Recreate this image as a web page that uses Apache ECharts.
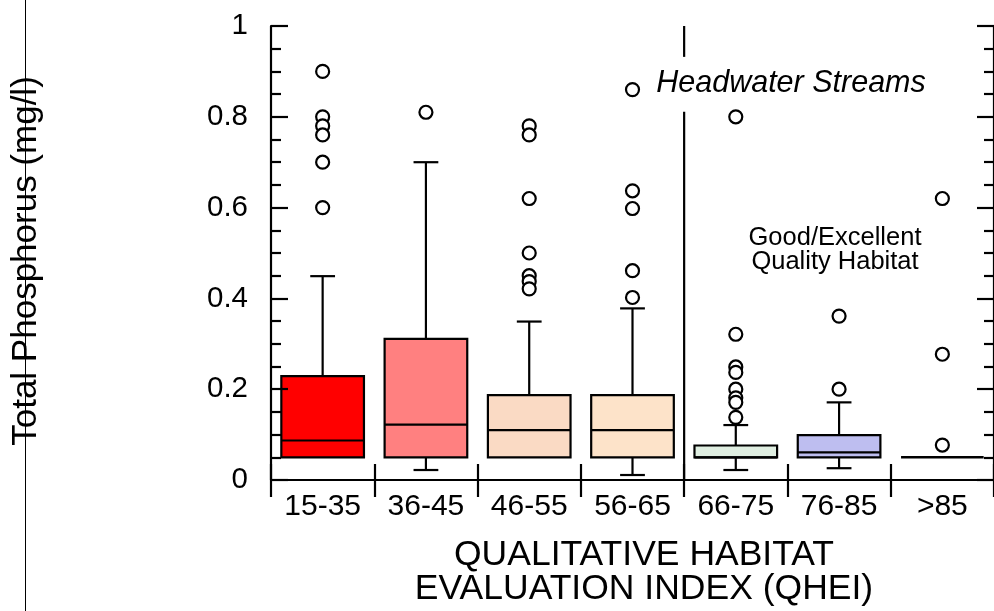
<!DOCTYPE html>
<html><head><meta charset="utf-8">
<script src="https://cdn.jsdelivr.net/npm/echarts@6/dist/echarts.min.js"></script>
<style>html,body{margin:0;padding:0;background:#fff}#c{width:994px;height:611px}</style>
</head><body><div id="c"></div>
<script>
// ---- data ----
const categories = ['15-35', '36-45', '46-55', '56-65', '66-75', '76-85', '>85'];
const whiskerLow  = [0.050, 0.022, 0.050, 0.011, 0.022, 0.026, 0.050];
const q1          = [0.050, 0.050, 0.050, 0.050, 0.050, 0.050, 0.050];
const median      = [0.087, 0.122, 0.110, 0.110, 0.050, 0.061, 0.050];
const q3          = [0.229, 0.311, 0.187, 0.187, 0.076, 0.099, 0.050];
const whiskerHigh = [0.449, 0.700, 0.349, 0.378, 0.121, 0.171, 0.050];
const outliers15_35 = [0.90, 0.80, 0.78, 0.76, 0.70, 0.60];
const outliers36_45 = [0.81];
const outliers46_55 = [0.78, 0.76, 0.62, 0.50, 0.45, 0.437, 0.421];
const outliers56_65 = [0.86, 0.637, 0.598, 0.461, 0.402];
const outliers66_75 = [0.80, 0.321, 0.249, 0.237, 0.20, 0.181, 0.171, 0.138];
const outliers76_85 = [0.361, 0.20];
const outliersGt85  = [0.62, 0.277, 0.077];
const yTickLabels = ['0', '0.2', '0.4', '0.6', '0.8', '1'];
const dividerBetween = [3, 4];          // vertical divider between 56-65 and 66-75
const dividerGap = [0.811, 0.932];      // gap left for the "Headwater Streams" text
const boxColors = ['#ff0000', '#ff8080', '#fadac4', '#fde3c9', '#dfeee1', '#bebef0', 'none'];

// ---- build ----
const allOutliers = [outliers15_35, outliers36_45, outliers46_55, outliers56_65, outliers66_75, outliers76_85, outliersGt85];
const boxData = categories.map((c, i) => [i, whiskerLow[i], q1[i], median[i], q3[i], whiskerHigh[i]]);
const outlierData = [];
allOutliers.forEach((arr, i) => arr.forEach(v => outlierData.push([i, v])));

const FONT = 'Liberation Sans, Arial, sans-serif';
const LW = 2.2;
const chart = echarts.init(document.getElementById('c'), null, {renderer: 'canvas'});

function renderBox(params, api) {
  const i = api.value(0);
  const x = api.coord([i, 0])[0];
  const bw = api.size([1, 0])[0] * 0.8;
  const capW = bw * 0.3;
  const yLo = api.coord([i, api.value(1)])[1];
  const yQ1 = api.coord([i, api.value(2)])[1];
  const yMed = api.coord([i, api.value(3)])[1];
  const yQ3 = api.coord([i, api.value(4)])[1];
  const yHi = api.coord([i, api.value(5)])[1];
  const ls = {stroke: '#000', lineWidth: LW};
  const ch = [];
  if (Math.abs(yLo - yQ1) > 0.5) {
    ch.push({type: 'line', shape: {x1: x, y1: yQ1, x2: x, y2: yLo}, style: ls});
    ch.push({type: 'line', shape: {x1: x - capW / 2, y1: yLo, x2: x + capW / 2, y2: yLo}, style: ls});
  }
  if (Math.abs(yHi - yQ3) > 0.5) {
    ch.push({type: 'line', shape: {x1: x, y1: yQ3, x2: x, y2: yHi}, style: ls});
    ch.push({type: 'line', shape: {x1: x - capW / 2, y1: yHi, x2: x + capW / 2, y2: yHi}, style: ls});
  }
  const fill = boxColors[i];
  if (Math.abs(yQ1 - yQ3) > 0.5) {
    ch.push({type: 'rect', shape: {x: x - bw / 2, y: yQ3, width: bw, height: yQ1 - yQ3},
      style: {fill: fill, stroke: '#000', lineWidth: LW}});
    ch.push({type: 'line', shape: {x1: x - bw / 2, y1: yMed, x2: x + bw / 2, y2: yMed}, style: ls});
  } else {
    ch.push({type: 'line', shape: {x1: x - bw / 2, y1: yQ1, x2: x + bw / 2, y2: yQ1}, style: {stroke: '#000', lineWidth: 2.6}});
  }
  return {type: 'group', children: ch};
}

function renderDivider(params, api) {
  const xa = api.coord([api.value(0), 0])[0];
  const xb = api.coord([api.value(1), 0])[0];
  const x = (xa + xb) / 2;
  const yTop = api.coord([0, 1])[1];
  const yBot = api.coord([0, 0])[1];
  const g1 = api.coord([0, api.value(3)])[1];
  const g0 = api.coord([0, api.value(2)])[1];
  const ls = {stroke: '#000', lineWidth: LW};
  return {type: 'group', children: [
    {type: 'line', shape: {x1: x, y1: yTop, x2: x, y2: g1}, style: ls},
    {type: 'line', shape: {x1: x, y1: g0, x2: x, y2: yBot}, style: ls}
  ]};
}

const tickCommon = {show: true, inside: true, length: 17, lineStyle: {color: '#000', width: LW}};
const option = {
  animation: false,
  backgroundColor: '#fff',
  textStyle: {fontFamily: FONT},
  grid: {left: 271, top: 26, right: -7, bottom: 131, containLabel: false},
  xAxis: [
    {type: 'category', data: categories, position: 'bottom', z: 5,
     axisLine: {show: true, lineStyle: {color: '#000', width: LW}},
     axisTick: Object.assign({}, tickCommon, {length: 16}),
     axisLabel: {color: '#000', fontSize: 30, fontFamily: FONT, margin: 12},
     splitLine: {show: false}},
    {type: 'category', data: categories, position: 'top', z: 5,
     axisLine: {show: true, lineStyle: {color: '#000', width: LW}},
     axisTick: tickCommon, axisLabel: {show: false}, splitLine: {show: false}}
  ],
  yAxis: [
    {type: 'value', min: 0, max: 1, interval: 0.2, position: 'left', z: 5,
     axisLine: {show: true, lineStyle: {color: '#000', width: LW}},
     axisTick: tickCommon,
     minorTick: {show: true, splitNumber: 4, length: 10, lineStyle: {color: '#000', width: LW}},
     axisLabel: {color: '#000', fontSize: 29.5, fontFamily: FONT, margin: 23, padding: [0, 0, 8, 0],
       formatter: (v) => yTickLabels[Math.round(v / 0.2)]},
     splitLine: {show: false}},
    {type: 'value', min: 0, max: 1, interval: 0.2, position: 'right', z: 5,
     axisLine: {show: true, lineStyle: {color: '#000', width: LW}},
     axisTick: tickCommon,
     minorTick: {show: true, splitNumber: 4, length: 10, lineStyle: {color: '#000', width: LW}},
     axisLabel: {show: false}, splitLine: {show: false}}
  ],
  series: [
    {type: 'custom', xAxisIndex: 0, yAxisIndex: 0, renderItem: renderBox, data: boxData, z: 2,
     encode: {x: 0, y: [1, 2, 3, 4, 5]}},
    {type: 'scatter', xAxisIndex: 0, yAxisIndex: 0, data: outlierData, symbol: 'circle', symbolSize: 13, z: 3,
     itemStyle: {color: '#fff', borderColor: '#000', borderWidth: 2.2, opacity: 1}},
    {type: 'custom', xAxisIndex: 0, yAxisIndex: 0, renderItem: renderDivider, z: 4,
     data: [[dividerBetween[0], dividerBetween[1], dividerGap[0], dividerGap[1]]]}
  ],
  graphic: [
    {type: 'line', shape: {x1: 25.5, y1: 0, x2: 25.5, y2: 611}, style: {stroke: '#000', lineWidth: 1}, z: 10},
    {type: 'text', x: 26, y: 261, rotation: Math.PI / 2, z: 11,
     style: {text: 'Total Phosphorus (mg/l)', font: '35px ' + FONT, fill: '#000', textAlign: 'center', textVerticalAlign: 'middle'}},
    {type: 'text', x: 644, y: 572, z: 11,
     style: {text: 'QUALITATIVE HABITAT\nEVALUATION INDEX (QHEI)', font: '35.5px ' + FONT, lineHeight: 34, fill: '#000', textAlign: 'center', textVerticalAlign: 'middle'}},
    {type: 'text', x: 791, y: 84, z: 11,
     style: {text: 'Headwater Streams', font: 'italic 30.5px ' + FONT, fill: '#000', textAlign: 'center', textVerticalAlign: 'middle'}},
    {type: 'text', x: 835, y: 250, z: 11,
     style: {text: 'Good/Excellent\nQuality Habitat', font: '25.5px ' + FONT, lineHeight: 24.5, fill: '#000', textAlign: 'center', textVerticalAlign: 'middle'}}
  ]
};
chart.setOption(option);
</script>
</body></html>
